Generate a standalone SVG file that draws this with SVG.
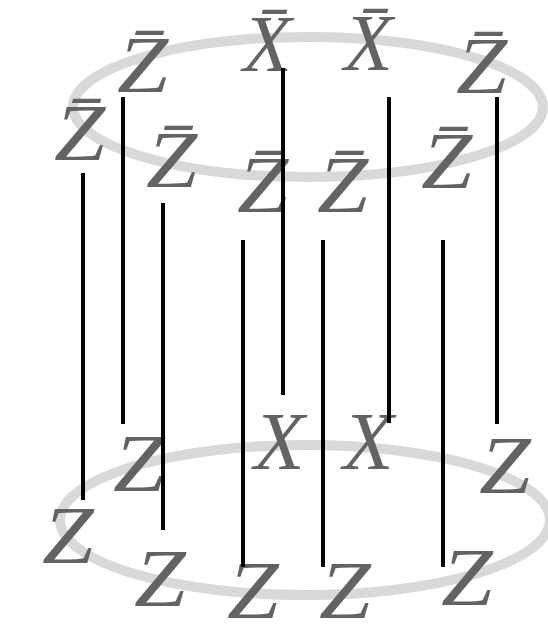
<svg xmlns="http://www.w3.org/2000/svg" width="548" height="626" viewBox="0 0 548 626">
<style>
.ring{fill:none;stroke:#d9d9d9;stroke-width:10}
.lbl{font-family:"Liberation Serif","Times New Roman",serif;font-style:italic;fill:#636363}
.top{font-size:80px}
.bot{font-size:83px}
.conn{stroke:#000;stroke-width:4;fill:none}
</style>
<rect width="548" height="626" fill="#fff"/>
<ellipse class="ring" cx="308" cy="107" rx="235" ry="70"/>
<ellipse class="ring" cx="305" cy="520" rx="245" ry="75"/>
<g id="t1" transform="translate(54,160) scale(1.15,1)"><text class="lbl top">Z̄</text></g>
<g id="t2" transform="translate(117,92) scale(1.15,1)"><text class="lbl top">Z̄</text></g>
<g id="t3" transform="translate(146,187) scale(1.15,1)"><text class="lbl top">Z̄</text></g>
<g id="t4" transform="translate(243,71)"><text class="lbl top">X̄</text></g>
<g id="t5" transform="translate(237,212) scale(1.15,1)"><text class="lbl top">Z̄</text></g>
<g id="t6" transform="translate(317,212) scale(1.15,1)"><text class="lbl top">Z̄</text></g>
<g id="t7" transform="translate(344,70)"><text class="lbl top">X̄</text></g>
<g id="t8" transform="translate(421,188) scale(1.15,1)"><text class="lbl top">Z̄</text></g>
<g id="t9" transform="translate(456,93) scale(1.15,1)"><text class="lbl top">Z̄</text></g>
<g id="b1" transform="translate(42,563) scale(1.12,1)"><text class="lbl bot">Z</text></g>
<g id="b2" transform="translate(113,491) scale(1.12,1)"><text class="lbl bot">Z</text></g>
<g id="b3" transform="translate(134,606) scale(1.12,1)"><text class="lbl bot">Z</text></g>
<g id="b4" transform="translate(254,469)"><text class="lbl bot">X</text></g>
<g id="b5" transform="translate(227,618) scale(1.12,1)"><text class="lbl bot">Z</text></g>
<g id="b6" transform="translate(319,618) scale(1.12,1)"><text class="lbl bot">Z</text></g>
<g id="b7" transform="translate(343,469)"><text class="lbl bot">X</text></g>
<g id="b8" transform="translate(441,605) scale(1.12,1)"><text class="lbl bot">Z</text></g>
<g id="b9" transform="translate(479,493) scale(1.12,1)"><text class="lbl bot">Z</text></g>
<g id="connectors">
<line class="conn" x1="83" y1="173" x2="83" y2="500"/>
<line class="conn" x1="123" y1="97" x2="123" y2="424"/>
<line class="conn" x1="163" y1="203" x2="163" y2="530"/>
<line class="conn" x1="283" y1="68" x2="283" y2="395"/>
<line class="conn" x1="243" y1="240" x2="243" y2="567"/>
<line class="conn" x1="323" y1="240" x2="323" y2="567"/>
<line class="conn" x1="389" y1="97" x2="389" y2="423"/>
<line class="conn" x1="443" y1="240" x2="443" y2="567"/>
<line class="conn" x1="497" y1="97" x2="497" y2="424"/>
</g>
</svg>
